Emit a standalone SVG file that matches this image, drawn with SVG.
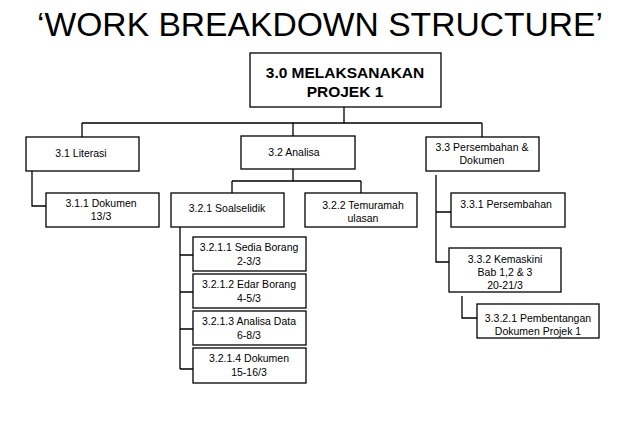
<svg xmlns="http://www.w3.org/2000/svg" width="638" height="442" viewBox="0 0 638 442">
<style>
rect{fill:#fff;stroke:#000;stroke-width:1.3}
text{font-family:"Liberation Sans",Arial,sans-serif;font-size:10.5px;text-anchor:middle;fill:#000}
.c{fill:none;stroke:#000;stroke-width:1.3}
.r{font-size:15.5px;font-weight:bold}
</style>
<rect x="0" y="0" width="638" height="442" style="stroke:none"/>
<text x="320" y="36" style="font-size:33px" textLength="566" lengthAdjust="spacingAndGlyphs">‘WORK BREAKDOWN STRUCTURE’</text>
<g id="connectors">
<path class="c" d="M344 107V123M82 123H482M82 123V137M293 123V136M482 123V137"/>
<path class="c" d="M293 169V181M232 181H361M232 181V193M361 181V193"/>
<path class="c" d="M32 171V206H46"/>
<path class="c" d="M180 227V369M180 255H193M180 292H193M180 329H193M180 369H193"/>
<path class="c" d="M436 175V262H449M436 212H451"/>
<path class="c" d="M462 296V318H477"/>
</g>
<g id="n30"><rect x="250" y="53" width="191" height="54"/><text class="r" x="345" y="78">3.0 MELAKSANAKAN</text><text class="r" x="345" y="97">PROJEK 1</text></g>
<g id="n31"><rect x="26" y="137" width="113" height="34"/><text x="81" y="157">3.1 Literasi</text></g>
<g id="n32"><rect x="241" y="136" width="114" height="33"/><text x="294" y="156">3.2 Analisa</text></g>
<g id="n33"><rect x="426" y="137" width="113" height="34"/><text x="482" y="151">3.3 Persembahan &amp;</text><text x="482" y="164">Dokumen</text></g>
<g id="n311"><rect x="46" y="193" width="113" height="34"/><text x="101" y="207">3.1.1 Dokumen</text><text x="101" y="220">13/3</text></g>
<g id="n321"><rect x="171" y="193" width="113" height="34"/><text x="227" y="212">3.2.1 Soalselidik</text></g>
<g id="n322"><rect x="305" y="193" width="112" height="34"/><text x="363" y="209">3.2.2 Temuramah</text><text x="363" y="222">ulasan</text></g>
<g id="n331"><rect x="451" y="193" width="114" height="34"/><text x="506" y="208">3.3.1 Persembahan</text></g>
<g id="n3211"><rect x="193" y="237" width="113" height="34"/><text x="249" y="251">3.2.1.1 Sedia Borang</text><text x="249" y="265">2-3/3</text></g>
<g id="n3212"><rect x="193" y="274" width="113" height="34"/><text x="249" y="288">3.2.1.2 Edar Borang</text><text x="249" y="302">4-5/3</text></g>
<g id="n3213"><rect x="193" y="311" width="113" height="34"/><text x="249" y="325">3.2.1.3 Analisa Data</text><text x="249" y="339">6-8/3</text></g>
<g id="n3214"><rect x="193" y="348" width="113" height="35"/><text x="249" y="362">3.2.1.4 Dokumen</text><text x="249" y="376">15-16/3</text></g>
<g id="n332"><rect x="449" y="248" width="112" height="44"/><text x="505" y="263">3.3.2 Kemaskini</text><text x="505" y="276">Bab 1,2 &amp; 3</text><text x="505" y="289">20-21/3</text></g>
<g id="n3321"><rect x="477" y="304" width="122" height="34"/><text x="538" y="322">3.3.2.1 Pembentangan</text><text x="538" y="335">Dokumen Projek 1</text></g>
</svg>
